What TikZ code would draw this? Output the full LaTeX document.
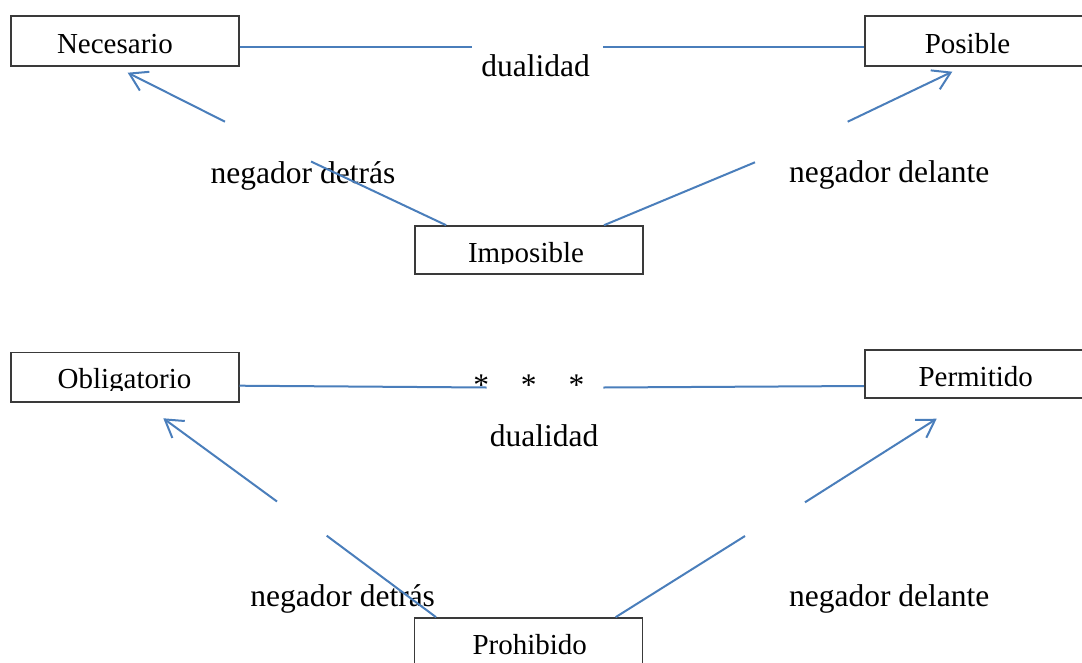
\documentclass[tikz,border=0pt]{standalone}
\usepackage{fontspec}
\setmainfont{Liberation Serif}
\usetikzlibrary{arrows.meta}
\definecolor{conn}{HTML}{4A7EBB}
\definecolor{boxline}{HTML}{3A3A3A}
\tikzset{
  box/.style={draw=boxline, line width=1.6pt, inner sep=0pt, minimum width=228pt, minimum height=50pt},
  boxtext/.style={anchor=base, inner sep=0pt, font=\fontsize{29}{34}\selectfont},
  lbl/.style={anchor=base, inner sep=0pt, font=\fontsize{31.5}{37}\selectfont},
  link/.style={draw=conn, line width=2pt},
  arr/.style={link, -{Straight Barb[length=17pt,width=21pt,line width=2pt]}}
}
\begin{document}
\begin{tikzpicture}[x=1pt,y=-1pt]
\useasboundingbox (0,0) rectangle (1082,662);
% boxes
\node[box] (nec) at (124.7,40.7) {};
\node[box] (pos) at (978.7,40.7) {};
\node[box, minimum height=48pt] (imp) at (529.2,250) {};
\node[box, minimum height=49.4pt] (obl) at (124.7,377) {};
\node[box, minimum height=48pt] (per) at (978.7,373.7) {};
\node[box, minimum height=50pt] (pro) at (528.5,643) {};
% box texts
\node[boxtext] (necT) at (115,53) {Necesario};
\node[boxtext] (posT) at (967.5,53) {Posible};
\begin{scope}
  \clip (415,226) rectangle (643.3,263.6);
  \node[boxtext] (impT) at (526,262.7) {Imposible};
\end{scope}
\begin{scope}
  \clip (10.7,352.3) rectangle (238.7,390);
  \node[boxtext] (oblT) at (124.5,388.3) {Obligatorio};
\end{scope}
\node[boxtext] (perT) at (975.7,386.7) {Permitido};
\node[boxtext] (proT) at (529.7,654.3) {Prohibido};
% labels
\node[lbl] (dual1) at (535.5,76.7) {dualidad};
\node[lbl] (ndt1) at (303,183.3) {negador detrás};
\node[lbl] (ndl1) at (889.2,182.7) {negador delante};
\node[lbl] (stars) at (528.8,395) {*\hspace{31.9pt}*\hspace{31.9pt}*};
\node[lbl] (dual2) at (544,446.7) {dualidad};
\node[lbl] (ndt2) at (342.7,606) {negador detrás};
\node[lbl] (ndl2) at (889.2,606) {negador delante};
% gap coordinates
\coordinate (d1l) at (472.3,47.3);
\coordinate (d1r) at (603.3,47.3);
\coordinate (d2l) at (486.7,387.5);
\coordinate (d2r) at (603.3,387.5);
\coordinate (tl1) at (311,161.5);
\coordinate (tl2) at (225,121.7);
\coordinate (tlTip) at (127.7,72.7);
\coordinate (tr1) at (755,162.3);
\coordinate (tr2) at (847.7,121.7);
\coordinate (trTip) at (952.3,71.7);
\coordinate (bl1) at (326.7,535.7);
\coordinate (bl2) at (277,501.5);
\coordinate (blTip) at (163.3,418.3);
\coordinate (br1) at (745,536);
\coordinate (br2) at (805,502.3);
\coordinate (brTip) at (936.7,418.7);
% duality lines
\draw[link] ([yshift=-6.6pt]nec.east) -- (d1l);
\draw[link] (d1r) -- ([yshift=-6.6pt]pos.west);
\draw[link] ([yshift=-8.7pt]obl.east) -- (d2l);
\draw[link] (d2r) -- ([yshift=-12.3pt]per.west);
% negation arrows
\draw[link] ([xshift=31.7pt]imp.north west) -- (tl1);
\draw[arr] (tl2) -- (tlTip);
\draw[link] ([xshift=-40pt]imp.north east) -- (tr1);
\draw[arr] (tr2) -- (trTip);
\draw[link] ([xshift=22.4pt]pro.north west) -- (bl1);
\draw[arr] (bl2) -- (blTip);
\draw[link] ([xshift=-27.7pt]pro.north east) -- (br1);
\draw[arr] (br2) -- (brTip);
\end{tikzpicture}
\end{document}
